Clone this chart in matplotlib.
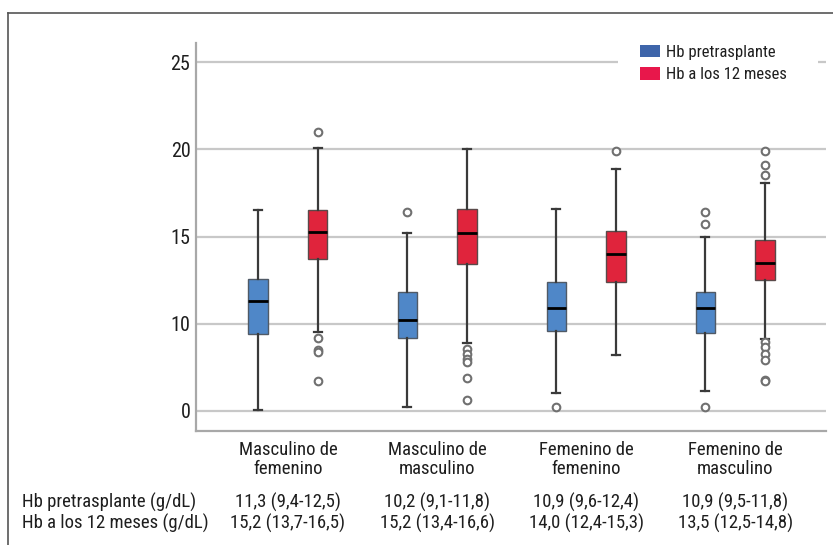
import matplotlib
matplotlib.use("Agg")
import matplotlib.pyplot as plt
from matplotlib import font_manager
from matplotlib.lines import Line2D
from matplotlib.patches import Patch, Rectangle
from matplotlib.transforms import blended_transform_factory

installed = {f.name for f in font_manager.fontManager.ttflist}
cands = ["Roboto Condensed", "Liberation Sans Narrow", "Open Sans Condensed", "Lato"]
fam = [c for c in cands if c in installed]
plt.rcParams['font.family'] = fam[:1] + ['DejaVu Sans']

groups = ["Masculino de\nfemenino", "Masculino de\nmasculino",
          "Femenino de\nfemenino", "Femenino de\nmasculino"]
series = ["Hb pretrasplante", "Hb a los 12 meses"]

# box stats (whislo, q1, med, q3, whishi)
pre_whislo = [5.05, 5.25, 6.0, 6.15]
pre_q1 = [9.4, 9.2, 9.6, 9.45]
pre_med = [11.3, 10.2, 10.9, 10.9]
pre_q3 = [12.55, 11.8, 12.4, 11.8]
pre_whishi = [16.5, 15.2, 16.6, 15.0]
pre_fliers = [[], [16.4], [5.25], [5.25, 15.7, 16.4]]

post_whislo = [9.55, 8.9, 8.2, 9.1]
post_q1 = [13.7, 13.4, 12.4, 12.5]
post_med = [15.25, 15.2, 14.0, 13.5]
post_q3 = [16.5, 16.6, 15.3, 14.8]
post_whishi = [20.1, 20.0, 18.85, 18.1]
post_fliers = [[9.2, 8.5, 8.4, 6.7, 21.0],
               [8.55, 8.25, 7.97, 7.83, 6.9, 5.6],
               [19.9],
               [8.95, 8.65, 8.25, 7.9, 6.8, 6.7, 18.55, 19.1, 19.9]]

yticks = [5, 10, 15, 20, 25]
ytick_labels = ["0", "10", "15", "20", "25"]

row_labels = ["Hb pretrasplante (g/dL)", "Hb a los 12 meses (g/dL)"]
pre_text = ["11,3 (9,4-12,5)", "10,2 (9,1-11,8)", "10,9 (9,6-12,4)", "10,9 (9,5-11,8)"]
post_text = ["15,2 (13,7-16,5)", "15,2 (13,4-16,6)", "14,0 (12,4-15,3)", "13,5 (12,5-14,8)"]

BLUE = "#4F87C8"
RED = "#E0243C"
LEG_BLUE = "#3E65AA"
LEG_RED = "#E8174B"
TXT = "#1e1e1e"

condensed = bool(fam) and fam[0] != "Lato"
FS = 13.5 if condensed else 12
FS_TICK = 14.5 if condensed else 13
FS_LEG = 12 if condensed else 11


def make_stats(wl, q1, med, q3, wh, fl):
    return [dict(whislo=a, q1=b, med=c, q3=d, whishi=e, fliers=f)
            for a, b, c, d, e, f in zip(wl, q1, med, q3, wh, fl)]


fig = plt.figure(figsize=(8.33, 5.45), dpi=100)
ax = fig.add_axes([0.2353, 0.2092, 0.7563, 0.7119])

xpos = list(range(len(groups)))
off = 0.2
width = 0.13

common = dict(
    widths=width, patch_artist=True, capwidths=0.055,
    whiskerprops=dict(color="#3a3a3a", lw=1.6),
    capprops=dict(color="#3a3a3a", lw=1.6),
    medianprops=dict(color="black", lw=2),
    flierprops=dict(marker="o", markersize=5.5, markerfacecolor="white",
                    markeredgecolor="#707070", markeredgewidth=1.5),
    zorder=3,
)

bp1 = ax.bxp(make_stats(pre_whislo, pre_q1, pre_med, pre_q3, pre_whishi, pre_fliers),
             positions=[x - off for x in xpos], **common)
bp2 = ax.bxp(make_stats(post_whislo, post_q1, post_med, post_q3, post_whishi, post_fliers),
             positions=[x + off for x in xpos], **common)
for b in bp1["boxes"]:
    b.set_facecolor(BLUE)
    b.set_edgecolor("#505a66")
    b.set_linewidth(1)
for b in bp2["boxes"]:
    b.set_facecolor(RED)
    b.set_edgecolor("#5a4a4a")
    b.set_linewidth(1)

ax.set_xlim(-0.617, 3.61)
ax.set_ylim(3.85, 26.1)
ax.set_yticks(yticks)
ax.set_yticklabels(ytick_labels, fontsize=FS_TICK, color=TXT)
ax.set_xticks(xpos)
ax.set_xticklabels(groups, fontsize=FS, color=TXT, linespacing=1.1)
ax.tick_params(axis="both", length=0)
ax.tick_params(axis="y", pad=4)
ax.tick_params(axis="x", pad=7)

ax.yaxis.grid(True, color="#c8c8c8", lw=1.6, zorder=0)
ax.set_axisbelow(True)
for s in ["top", "right"]:
    ax.spines[s].set_visible(False)
for s in ["left", "bottom"]:
    ax.spines[s].set_color("#a8a8a8")
    ax.spines[s].set_linewidth(1.6)

# white patch behind the legend that breaks the top gridline
ax.add_patch(Rectangle((0.670, 0.81), 0.317, 0.19, transform=ax.transAxes,
                       facecolor="white", edgecolor="none", zorder=1))

handles = [Patch(facecolor=LEG_BLUE, edgecolor="none"),
           Patch(facecolor=LEG_RED, edgecolor="none")]
leg = ax.legend(handles, series, loc="upper left", bbox_to_anchor=(0.699, 1.004),
                fontsize=FS_LEG, frameon=False, handlelength=1.2, handleheight=0.75,
                handletextpad=0.38, labelspacing=0.45, borderpad=0.2,
                borderaxespad=0)
leg.set_zorder(5)
for t in leg.get_texts():
    t.set_color(TXT)

# summary table under the chart
trans = blended_transform_factory(ax.transData, fig.transFigure)
row_y = [0.0789, 0.0404]
fig.text(0.0264, row_y[0], row_labels[0], fontsize=FS, va="center", color=TXT)
fig.text(0.0264, row_y[1], row_labels[1], fontsize=FS, va="center", color=TXT)
for x, a, b in zip(xpos, pre_text, post_text):
    ax.text(x, row_y[0], a, transform=trans, ha="center", va="center",
            fontsize=FS, color=TXT, clip_on=False)
    ax.text(x, row_y[1], b, transform=trans, ha="center", va="center",
            fontsize=FS, color=TXT, clip_on=False)

# outer frame (cut at right and bottom)
fig.add_artist(Line2D([0.0096, 0.0096], [0.0, 0.9767], color="#555555", lw=1.2))
fig.add_artist(Line2D([0.0096, 1.0], [0.9767, 0.9767], color="#555555", lw=1.2))

fig.savefig("out.png", dpi=100)
